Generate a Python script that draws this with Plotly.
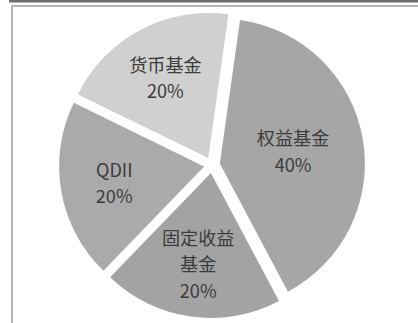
import plotly.graph_objects as go

labels = ["权益基金", "固定收益<br>基金", "QDII", "货币基金"]
values = [40, 20, 20, 20]
colors = ["#a6a6a6", "#a3a3a3", "#aaaaaa", "#d0d0d0"]

W, H = 418, 323
cx, cy, side = 212, 165, 306

# display text: each line wrapped in a span so glyphs are 20px while line pitch follows the 22.5px base
def wrap(s):
    return "<br>".join(f'<span style="font-size:20px">{p}</span>' for p in s.split("<br>"))

disp = [wrap(l) for l in labels]
pct = [f'<span style="font-size:20px">{round(v * 100 / sum(values))}%</span>' for v in values]

fig = go.Figure(go.Pie(
    labels=labels, values=values, sort=False, direction="clockwise", rotation=8,
    pull=[0.055] * 4,
    marker=dict(colors=colors, line=dict(width=0)),
    customdata=list(zip(disp, pct)),
    texttemplate="%{customdata[0]}<br>%{customdata[1]}",
    textposition="inside", insidetextorientation="horizontal",
    textfont=dict(family="Noto Sans CJK SC", size=22.5, color="#3c3c3c"),
    hoverinfo="none", showlegend=False,
    domain=dict(x=[(cx - side / 2) / W, (cx + side / 2) / W],
                y=[(H - cy - side / 2) / H, (H - cy + side / 2) / H]),
))

def px(x): return x / W
def py(y): return 1 - y / H

fig.update_layout(
    width=W, height=H, margin=dict(l=0, r=0, t=0, b=0),
    paper_bgcolor="white", plot_bgcolor="white",
    uniformtext=dict(minsize=20, mode="show"),
    shapes=[
        dict(type="rect", xref="paper", yref="paper", x0=px(9), x1=1, y0=py(2.5), y1=1,
             fillcolor="#6e6e6e", line=dict(width=0)),
        dict(type="rect", xref="paper", yref="paper", x0=px(11), x1=1, y0=py(7), y1=py(5),
             fillcolor="#b4b4b4", line=dict(width=0)),
        dict(type="rect", xref="paper", yref="paper", x0=px(11), x1=px(13), y0=0, y1=py(5),
             fillcolor="#b4b4b4", line=dict(width=0)),
    ],
)

fig.write_html("out.html")
